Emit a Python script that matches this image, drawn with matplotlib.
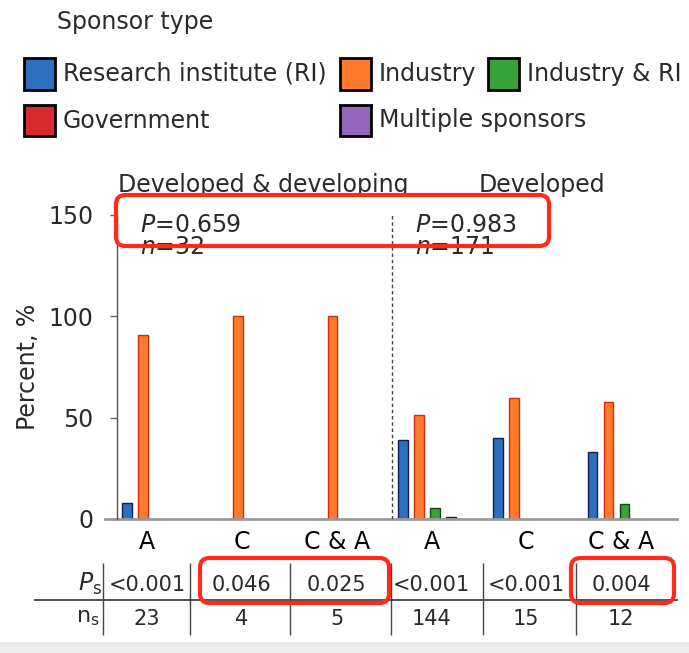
"""
sponsor type per group, bars + table of p-values underneath
"""
import matplotlib.pyplot as plt
import numpy as np
from matplotlib.patches import Rectangle, FancyBboxPatch

W, H = 689, 653  # px of the output

groups = ["A", "C", "C & A", "A", "C", "C & A"]
sponsors = ["Research institute (RI)", "Industry", "Industry & RI",
            "Government", "Multiple sponsors"]
colors = ["#2d6fc0", "#ff7b2c", "#38a33a", "#d62a2e", "#9467bd"]
edges = ["#0d1f55", "#d42a10", "#0f4a12", "#222222", "#3d2460"]

ri = [8, 0, 0, 39, 40, 33]
industry = [91, 100, 100, 51.5, 59.5, 57.5]
ind_ri = [0, 0, 0, 5.5, 0, 7.5]
gov = [0, 0, 0, 0.8, 0, 0]
multi = [0, 0, 0, 0, 0, 0]

p_s = ["<0.001", "0.046", "0.025", "<0.001", "<0.001", "0.004"]
n_s = ["23", "4", "5", "144", "15", "12"]

panel_titles = ["Developed & developing", "Developed"]
panel_p = ["0.659", "0.983"]
panel_n = ["32", "171"]

TXT = "#2a2a2a"
RED = "#ff2a1a"
COL = 94.8  # px between two groups


def fx(px):
    return px / W


def fy(py):
    return 1 - py / H


def d(px):
    # pixel column -> data x (group 0 centred at px 147)
    return (px - 147) / COL


fig = plt.figure(figsize=(W / 100, H / 100), dpi=100)

# light strip at the bottom of the screenshot
fig.add_artist(Rectangle((0, 0), 1, 11 / H, transform=fig.transFigure,
                         facecolor="#ececec", edgecolor="none"))

ax = fig.add_axes([fx(117), fy(519), (677 - 117) / W, (519 - 215) / H])
x = np.arange(len(groups))
shift = np.where(x < 3, -0.21, -0.30)
step = 16 / COL
bw = 9.5 / COL

series = [ri, industry, ind_ri, gov, multi]
for k, vals in enumerate(series):
    vals = np.array(vals, dtype=float)
    keep = vals > 0
    ax.bar((x + shift + k * step)[keep], vals[keep], width=bw,
           color=colors[k], edgecolor=edges[k], linewidth=1)

ax.set_xlim(d(117), d(677))
ax.set_ylim(0, 150)
ax.set_yticks([0, 50, 100, 150])
ax.tick_params(axis="y", length=5, width=1, color="#666666", labelsize=17,
               pad=12, labelcolor=TXT)
ax.set_xticks(x, groups)
ax.tick_params(axis="x", length=0, pad=8, labelsize=17, labelcolor="black")
for s in ["top", "right", "bottom"]:
    ax.spines[s].set_visible(False)
ax.spines["left"].set_color("#555555")
ax.spines["left"].set_linewidth(1)
ax.axhline(0, xmin=-12 / 560, xmax=1, color="#999999", lw=2, clip_on=False)
ax.axvline(d(392), color="#444444", lw=1, ls=(0, (2.5, 2)))
ax.set_ylabel("Percent, %", fontsize=17, color=TXT, labelpad=6)

# titles and stats above each half
fig.text(fx(118), fy(185), panel_titles[0], fontsize=17, color=TXT, va="center")
fig.text(fx(479), fy(185), panel_titles[1], fontsize=17, color=TXT, va="center")
for px, p, n in zip([140, 415], panel_p, panel_n):
    fig.text(fx(px), fy(225), "$P$=" + p, fontsize=17, color=TXT, va="center")
    fig.text(fx(px), fy(247), "$n$=" + n, fontsize=17, color=TXT, va="center")

# table under the bars
tab = fig.add_axes([fx(117), fy(640), (677 - 117) / W, (640 - 555) / H])
tab.set_xlim(d(117), d(677))
tab.set_ylim(640, 555)
tab.axis("off")
for i in x:
    tab.text(i, 585, p_s[i], ha="center", va="center", fontsize=15, color=TXT)
    tab.text(i, 619, n_s[i], ha="center", va="center", fontsize=15, color=TXT)
tab.text(d(90), 584, r"$P_{\rm s}$", ha="center", va="center", fontsize=17, color=TXT)
tab.text(d(88), 618, r"n$_{\rm s}$", ha="center", va="center", fontsize=16, color=TXT)
tab.plot([d(35), d(677)], [600, 600], color="#444444", lw=1.3, clip_on=False)
tab.vlines([d(p) for p in [103, 190, 290, 391, 483, 576]], 563, 635,
           color="#444444", lw=1, clip_on=False)

# legend drawn by hand (rows are not a regular grid)
fig.text(fx(57), fy(22), "Sponsor type", fontsize=17, color=TXT, va="center")
slots = [(24, 74), (340, 74), (488, 74), (24, 120.5), (340, 120.5)]
for (px, py), lab, c in zip(slots, sponsors, colors):
    fig.add_artist(Rectangle((fx(px), fy(py + 15.5)), 31 / W, 31 / H,
                             transform=fig.transFigure, facecolor=c,
                             edgecolor="black", lw=2))
    fig.text(fx(px + 39), fy(py), lab, fontsize=17, color=TXT, va="center")

# red highlight boxes, on top of the text
for x0, y0, x1, y1 in [(116, 195, 549, 246), (200, 558, 389, 603), (571, 558, 674, 603)]:
    fig.add_artist(FancyBboxPatch((fx(x0), fy(y1)), (x1 - x0) / W, (y1 - y0) / H,
                                  boxstyle="round,pad=0,rounding_size=0.014",
                                  transform=fig.transFigure, fill=False,
                                  edgecolor=RED, lw=3, zorder=10))

fig.savefig("out.png", dpi=100)
